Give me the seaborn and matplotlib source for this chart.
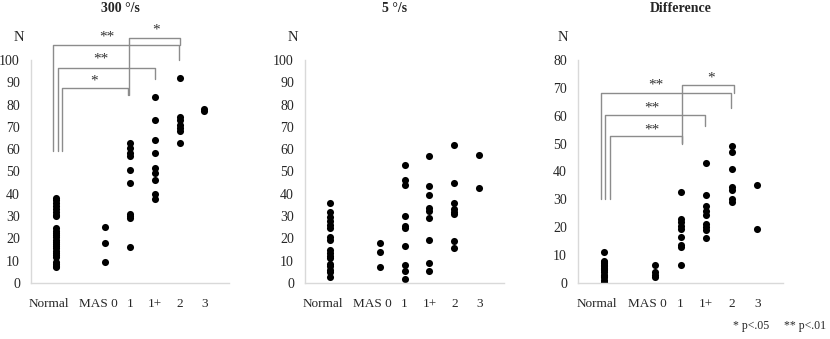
import matplotlib
matplotlib.use("Agg")
import matplotlib.pyplot as plt
import matplotlib.transforms as mtransforms
import seaborn as sns
import pandas as pd

# categories and their x slots (Excel-style scatter, gap after Normal)
groups = ["Normal", "MAS 0", "1", "1+", "2", "3"]
slots = [1, 3, 4, 5, 6, 7]

# 300 deg/s
fast_normal = [38, 37, 36, 34.5, 33, 32, 30.5, 30, 24.5, 23.5, 22.5, 21.5, 20.5, 19.5,
               18.5, 17.5, 16.5, 15.5, 14.5, 13.5, 12.5, 11.5, 9.5, 8.5, 7.5, 7]
fast_mas0 = [25, 18, 9.5]
fast_1 = [63, 60.5, 58.5, 57, 50.5, 45, 31, 30, 29, 16]
fast_1p = [83.5, 73, 64, 58.5, 51.5, 49.5, 46, 40, 37.5]
fast_2 = [92, 74.5, 73, 71, 69.5, 68, 63]
fast_3 = [78, 77]

# 5 deg/s
slow_normal = [36, 32, 29.5, 28, 26, 24.5, 20.5, 19.5, 15, 13.5, 12, 11, 8.5, 7.5, 6, 5, 2.5]
slow_mas0 = [18, 14, 7]
slow_1 = [53, 46, 44, 30, 25.5, 24.5, 16.5, 8, 5.5, 2]
slow_1p = [57, 43.5, 39.5, 33.5, 32.5, 29, 19.5, 9, 5.5]
slow_2 = [62, 45, 36, 33, 32, 31, 19, 15.5]
slow_3 = [57.5, 42.5]

# difference
diff_normal = [11, 8, 7.5, 7, 6.5, 6, 5.5, 5, 4.5, 4, 3, 2.5, 2, 1, 0.5, 0]
diff_mas0 = [6.5, 4, 3, 2]
diff_1 = [32.5, 23, 22, 20.5, 19.5, 16.5, 13.5, 13, 6.5]
diff_1p = [43, 31.5, 27.5, 26, 24.5, 21, 20, 19, 16]
diff_2 = [49, 47, 41, 34.5, 33.5, 30, 29]
diff_3 = [35, 19.5]


def frame(*series):
    rows = []
    for x, vals in zip(slots, series):
        rows += [(x, v) for v in vals]
    return pd.DataFrame(rows, columns=["x", "N"])


sns.set_style("white")
plt.rcParams["font.family"] = ["Liberation Serif", "DejaVu Serif"]
GRAY = "#8c8c8c"
AX = "#d9d9d9"

fig = plt.figure(figsize=(8.3, 3.39), dpi=100)
boxes = [(31, 198), (305, 199), (578, 205)]
panels = [
    ("300 °/s", frame(fast_normal, fast_mas0, fast_1, fast_1p, fast_2, fast_3), 100),
    ("5 °/s", frame(slow_normal, slow_mas0, slow_1, slow_1p, slow_2, slow_3), 100),
    ("Difference", frame(diff_normal, diff_mas0, diff_1, diff_1p, diff_2, diff_3), 80),
]
shift = mtransforms.ScaledTranslation(-7 / 100, 0, fig.dpi_scale_trans)

axes = []
for (left, w), (title, df, ymax) in zip(boxes, panels):
    ax = fig.add_axes([left / 830, 56 / 339, w / 830, 223 / 339])
    sns.scatterplot(data=df, x="x", y="N", ax=ax, color="black", s=26,
                    linewidth=0, legend=False)
    ax.set_xlim(0, 8)
    ax.set_ylim(0, ymax)
    ax.set_yticks(range(0, ymax + 1, 10))
    ax.set_xticks(slots)
    ax.set_xticklabels(groups)
    ax.set_xlabel("")
    ax.set_ylabel("")
    ax.tick_params(length=0, labelsize=10)
    ax.tick_params(axis="x", pad=11, labelsize=9.5)
    ax.tick_params(axis="y", pad=8)
    for lab in ax.get_xticklabels()[:2]:
        lab.set_transform(lab.get_transform() + shift)
    for s in ["top", "right"]:
        ax.spines[s].set_visible(False)
    for s in ["left", "bottom"]:
        ax.spines[s].set_color(AX)
        ax.spines[s].set_linewidth(1)
    ax.text(-0.5 if ymax == 100 else -0.6, ymax * 1.1, "N", ha="center", va="center",
            fontsize=10.5)
    ax.text(0.45 if ymax == 100 else 0.5, 1.23, title, transform=ax.transAxes,
            ha="center", va="center", fontsize=10, fontweight="bold")
    axes.append(ax)


def bracket(ax, x0, y0, x1, y1, ytop, label, lx, ly):
    ax.plot([x0, x0, x1, x1], [y0, ytop, ytop, y1], color=GRAY, lw=1, clip_on=False)
    ax.text(lx, ly, label, ha="center", va="center", fontsize=11, color="#333333")


a1 = axes[0]
bracket(a1, 1.24, 59, 3.92, 84.5, 87.5, "*", 2.56, 90.5)
bracket(a1, 1.08, 59, 5.0, 91.6, 96.6, "**", 2.84, 100.5)
bracket(a1, 0.88, 59, 5.96, 100, 106.9, "**", 3.08, 110.5)
bracket(a1, 3.96, 84.5, 6.04, 106.6, 110, "*", 5.04, 113.5)

a3 = axes[2]
bracket(a3, 1.24, 30, 4.04, 50, 52.9, "**", 2.9, 55)
bracket(a3, 1.04, 30, 4.95, 56.3, 60.1, "**", 2.9, 62.8)
bracket(a3, 0.9, 30, 5.96, 62.9, 68.1, "**", 3.02, 71)
bracket(a3, 4.07, 50.2, 6.1, 68, 71, "*", 5.2, 73.6)

fig.text(733 / 830, 1 - 326 / 339, "* p<.05", fontsize=8.5, va="center")
fig.text(784 / 830, 1 - 326 / 339, "** p<.01", fontsize=8.5, va="center")

fig.savefig("out.png", dpi=100)
